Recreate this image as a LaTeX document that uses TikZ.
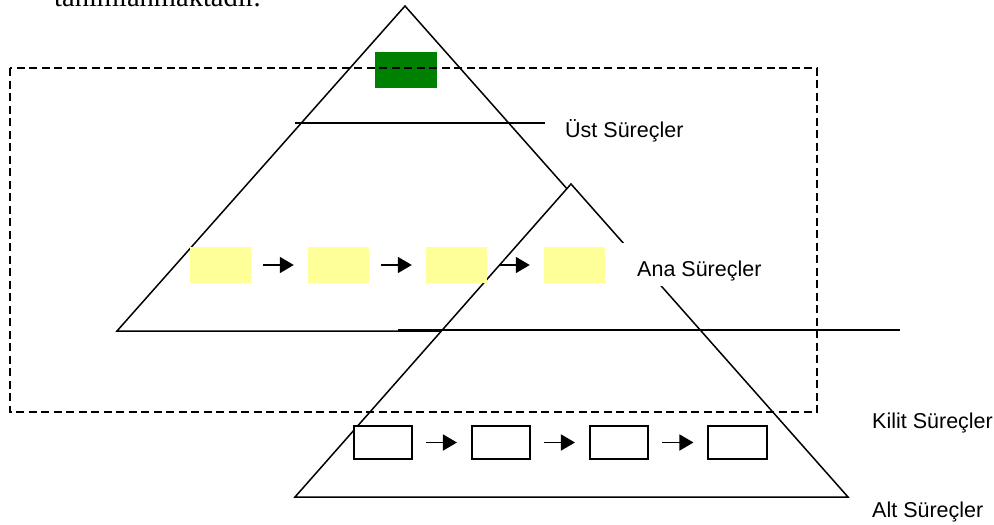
\documentclass[tikz,border=0pt]{standalone}
\usepackage{fontspec}
\setmainfont{Liberation Sans}
\newfontfamily\serifface{Liberation Serif}
\usetikzlibrary{arrows.meta}
\definecolor{yellowbox}{HTML}{FFFF99}
\definecolor{greenbox}{HTML}{008000}
\begin{document}
\begin{tikzpicture}[x=1pt,y=-1pt,
  outline/.style={line width=1.5pt, line join=miter},
  ybox/.style={fill=yellowbox, draw=none, minimum width=61pt, minimum height=36pt, inner sep=0pt},
  wbox/.style={fill=white, draw=black, line width=1.6pt, minimum width=58.5pt, minimum height=33.5pt, inner sep=0pt},
  gbox/.style={fill=greenbox, draw=none, minimum width=62pt, minimum height=36pt, inner sep=0pt},
  flow/.style={line width=1.7pt, -{Triangle[length=14pt,width=16pt]}},
  lbl/.style={font=\fontsize{21.5}{24}\selectfont, anchor=base west, inner sep=0pt},
  dashbox/.style={line width=1.3pt, dash pattern=on 8pt off 4.5pt}
]
\useasboundingbox (0,0) rectangle (994,525);
% top partial text
\node[anchor=base west, inner sep=0pt, font=\serifface\fontsize{28.5}{30}\selectfont] (top) at (54,6) {tanımlanmaktadır.};
% big triangle
\coordinate (A1) at (405,6);
\coordinate (L1) at (117,331);
\coordinate (R1) at (693,331);
\draw[outline, fill=white] (A1) -- (L1) -- (R1) -- cycle;
% upper line
\coordinate (U1) at (295,123);
\coordinate (U2) at (545,123);
\draw[outline] (U1) -- (U2);
% green box
\node[gbox] (g) at (406,70) {};
% small triangle
\coordinate (A2) at (571,184);
\coordinate (L2) at (295,497);
\coordinate (R2) at (848,497);
\draw[outline, fill=white] (A2) -- (L2) -- (R2) -- cycle;
% long line
\coordinate (H1) at (398,330);
\coordinate (H2) at (900,330);
\draw[outline] (H1) -- (H2);
% yellow boxes
\node[ybox] (y1) at (220.5,265) {};
\node[ybox] (y2) at (338.5,265) {};
\node[ybox] (y3) at (456.5,265) {};
\node[ybox] (y4) at (574.5,265) {};
\draw[flow, shorten <=12pt, shorten >=14pt] (y1.east) -- (y2.west);
\draw[flow, shorten <=12pt, shorten >=14pt] (y2.east) -- (y3.west);
\draw[flow, shorten <=12pt, shorten >=14pt] (y3.east) -- (y4.west);
% bottom boxes
\node[wbox] (b1) at (383,442.5) {};
\node[wbox] (b2) at (501,442.5) {};
\node[wbox] (b3) at (619,442.5) {};
\node[wbox] (b4) at (737.5,442.5) {};
\draw[flow, shorten <=13pt, shorten >=14pt] (b1.east) -- (b2.west);
\draw[flow, shorten <=13pt, shorten >=14pt] (b2.east) -- (b3.west);
\draw[flow, shorten <=13pt, shorten >=14pt] (b3.east) -- (b4.west);
% labels
\fill[white] (612,243) rectangle (790,286);
\node[lbl] (ust) at (565,137) {Üst Süreçler};
\node[lbl] (ana) at (637,276) {Ana Süreçler};
\node[lbl] (kilit) at (872,428) {Kilit Süreçler};
\node[lbl] (alt) at (872,517) {Alt Süreçler};
% dashed frame
\draw[dashbox] (10,68) rectangle (817,412);
\end{tikzpicture}
\end{document}
